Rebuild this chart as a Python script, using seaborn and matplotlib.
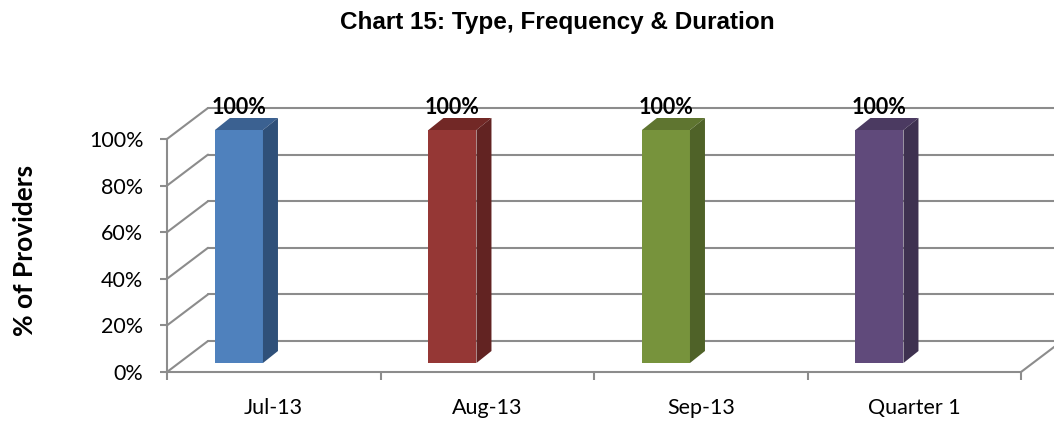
import numpy as np
import pandas as pd
import matplotlib
matplotlib.use("Agg")
import matplotlib.pyplot as plt
import seaborn as sns
from matplotlib.patches import Polygon
from matplotlib.lines import Line2D

# ---- data ----
categories = ["Jul-13", "Aug-13", "Sep-13", "Quarter 1"]
values = [1.0, 1.0, 1.0, 1.0]
value_labels = ["100%", "100%", "100%", "100%"]
y_ticks = [0.0, 0.2, 0.4, 0.6, 0.8, 1.0]
y_tick_labels = ["0%", "20%", "40%", "60%", "80%", "100%"]
title = "Chart 15: Type, Frequency & Duration"
y_title = "% of Providers"

# ---- styles ----
front_colors = ["#4F81BD", "#953735", "#77933C", "#604A7B"]
top_colors = ["#3B6191", "#722826", "#5F7530", "#4B3A61"]
side_colors = ["#2F5079", "#622322", "#4F6228", "#3E3150"]
grid_color = "#8C8C8C"

sns.set_theme(style="white")
plt.rcParams["font.family"] = ["Lato", "DejaVu Sans"]
plt.rcParams["text.color"] = "black"

W, H = 1054, 421
fig = plt.figure(figsize=(W / 100, H / 100), dpi=100)
ax_left, ax_right, ax_bottom, ax_top = 167, 1021, 372, 139
ax = fig.add_axes([ax_left / W, (H - ax_bottom) / H,
                   (ax_right - ax_left) / W, (ax_bottom - ax_top) / H])
ax.set_xlim(-0.5, len(categories) - 0.5)
ax.set_ylim(0, 1)

px_x = (ax_right - ax_left) / len(categories)   # pixels per category unit
px_y = (ax_bottom - ax_top)                      # pixels per 1.0

# wall depth offsets (data units)
DX, DY = 41 / px_x, 31 / px_y
# bar plane offsets and bar depth
BX, BY = -0.163, 9 / px_y
bdx, bdy = 15 / px_x, 12 / px_y

df = pd.DataFrame({"cat": categories, "val": values})
sns.barplot(data=df, x="cat", y="val", hue="cat", palette=front_colors,
            width=0.225, saturation=1, legend=False, ax=ax, zorder=5,
            linewidth=0)

# back wall gridlines + left wall diagonals
x0, x1 = -0.5, len(categories) - 0.5
for yt in y_ticks:
    ax.add_line(Line2D([x0 + DX, x1 + DX], [yt + DY, yt + DY], color=grid_color,
                       lw=1.5, clip_on=False, zorder=1))
    ax.add_line(Line2D([x0, x0 + DX], [yt, yt + DY], color=grid_color,
                       lw=1.5, clip_on=False, zorder=1))
# floor right diagonal
ax.add_line(Line2D([x1, x1 + DX], [0, DY], color=grid_color, lw=1.5,
                   clip_on=False, zorder=1))

# 3D bar faces
for i, p in enumerate(ax.patches[:len(categories)]):
    p.set_x(p.get_x() + BX)
    p.set_y(p.get_y() + BY)
    L = p.get_x(); R = L + p.get_width()
    b = p.get_y(); t = b + p.get_height()
    top = Polygon([(L, t), (R, t), (R + bdx, t + bdy), (L + bdx, t + bdy)],
                  closed=True, facecolor=top_colors[i], edgecolor="none",
                  clip_on=False, zorder=6)
    side = Polygon([(R, b), (R, t), (R + bdx, t + bdy), (R + bdx, b + bdy)],
                   closed=True, facecolor=side_colors[i], edgecolor="none",
                   clip_on=False, zorder=6)
    ax.add_patch(top); ax.add_patch(side)
    p.set_clip_on(False)
    ax.annotate(value_labels[i], xy=((L + R) / 2, t + bdy), xytext=(0, 3),
                textcoords="offset points", ha="center", va="baseline",
                fontsize=15.5, fontweight="bold", color="black", zorder=7,
                annotation_clip=False)

# axes styling
for s in ["top", "right"]:
    ax.spines[s].set_visible(False)
for s in ["left", "bottom"]:
    ax.spines[s].set_color(grid_color)
    ax.spines[s].set_linewidth(1.5)
    ax.spines[s].set_zorder(2)

ax.set_yticks(y_ticks)
ax.set_yticklabels(y_tick_labels, fontsize=15.5, color="black")
ax.tick_params(axis="y", direction="out", length=5, width=1.5,
               color=grid_color, pad=12, left=True)
ax.set_xticks(np.arange(len(categories) + 1) - 0.5)
ax.set_xticklabels([])
ax.set_xticks(np.arange(len(categories)), minor=True)
ax.set_xticklabels(categories, minor=True, fontsize=15.5, color="black")
ax.tick_params(axis="x", which="major", direction="out", length=6, width=1.5,
               color=grid_color, bottom=True)
ax.tick_params(axis="x", which="minor", length=0, pad=19)
ax.set_xlabel(""); ax.set_ylabel("")

fig.text(25 / W, 1 - 250 / H, y_title, rotation=90, ha="center", va="center",
         fontsize=19, fontweight="bold", color="black")
fig.text(557 / W, 1 - 22 / H, title, ha="center", va="center",
         fontsize=17.5, fontweight="bold", color="black",
         family=["Liberation Sans", "DejaVu Sans"])

fig.savefig("out.png", dpi=100)
